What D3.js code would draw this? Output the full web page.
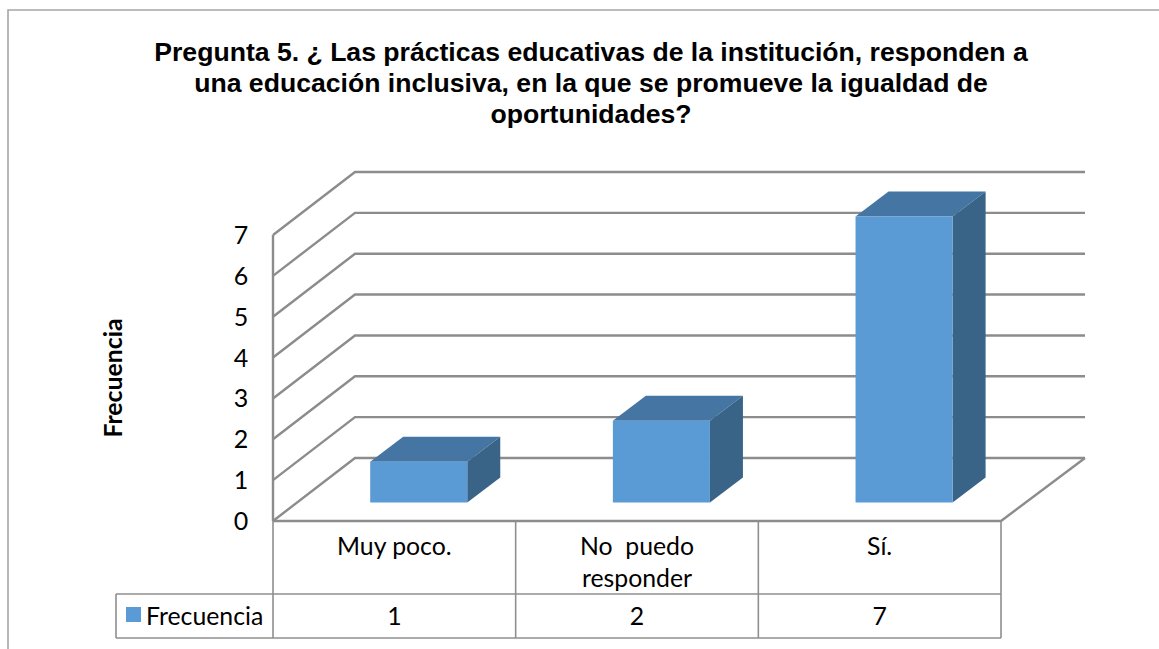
<!DOCTYPE html>
<html><head><meta charset="utf-8">
<script src="https://cdn.jsdelivr.net/npm/d3@7/dist/d3.min.js"></script>
<style>html,body{margin:0;padding:0;background:#fff}svg{display:block}</style>
</head><body><svg id="c" width="1159" height="649"></svg>
<script>
const titleLines = ["Pregunta 5. ¿ Las prácticas educativas de la institución, responden a","una educación inclusiva, en la que se promueve la igualdad de","oportunidades?"];
const categories = ["Muy poco.","No  puedo|responder","Sí."];
const values = [1,2,7];
const yTicks = [0,1,2,3,4,5,6,7];
const seriesName = "Frecuencia";
const yTitle = "Frecuencia";

const svg = d3.select("#c");
const y = d3.scaleLinear().domain([0,7]).range([521,235]);
const x = d3.scaleBand().domain(categories).range([273,1001]).paddingInner(0).paddingOuter(0);
const dx = 82, dxEnd = 84, dy = -63;
const barW = x.bandwidth()/2.5, bdx = 33, bdy = -25, boffX = 24.4, boffY = -18.5;
const grid = "#8c8c8c", tbl = "#8f8f8f";
const bodyFont = "Lato";
const line = (a,w,col)=>svg.append("path").attr("d",d3.line()(a)).attr("fill","none").attr("stroke",col||grid).attr("stroke-width",w||2.4);

// frame
svg.append("path").attr("d","M8,649V10H1159").attr("fill","none").attr("stroke","#a6a6a6").attr("stroke-width",1.6);

// title
svg.append("g").selectAll("text").data(titleLines).join("text")
 .attr("x",591).attr("y",(d,i)=>61+i*31).attr("text-anchor","middle")
 .attr("font-family","Liberation Sans").attr("font-weight","bold").attr("font-size",26.6).attr("fill","#000").text(d=>d);

// walls & grid
yTicks.forEach(t=>{
  line([[x.range()[0],y(t)],[x.range()[0]+dx,y(t)+dy],[x.range()[1]+dxEnd,y(t)+dy]]);
});
line([[273,y(7)],[273,y(0)]]);
line([[x.range()[0],y(0)],[x.range()[1],y(0)],[x.range()[1]+dxEnd,y(0)+dy]]);

// y ticks
svg.append("g").selectAll("text").data(yTicks).join("text")
 .attr("x",241).attr("y",d=>y(d)+9).attr("text-anchor","middle")
 .attr("font-family",bodyFont).attr("font-size",25).attr("fill","#000").text(d=>d);

// y title
svg.append("text").attr("transform","translate(122,378) rotate(-90)").attr("text-anchor","middle")
 .attr("font-family",bodyFont).attr("font-weight","bold").attr("font-size",24.8).text(yTitle);

// bars
const g = svg.append("g");
values.forEach((v,i)=>{
  const c = categories[i];
  const x0 = x(c)+boffX+(x.bandwidth()-barW)/2, x1 = x0+barW;
  const yb = y(0)+boffY, yt = y(v)+boffY;
  g.append("polygon").attr("points",[[x0,yt],[x0+bdx,yt+bdy],[x1+bdx,yt+bdy],[x1,yt]].join(" ")).attr("fill","#4575a2");
  g.append("polygon").attr("points",[[x1,yt],[x1+bdx,yt+bdy],[x1+bdx,yb+bdy],[x1,yb]].join(" ")).attr("fill","#3a6487");
  g.append("rect").attr("x",x0).attr("y",yt).attr("width",barW).attr("height",yb-yt).attr("fill","#5b9bd5");
});

// data table
const tTop = 594, tBot = 638, tLeft = 116;
const tl = (a)=>line(a,1.6,tbl);
tl([[273,521],[273,tBot]]);
categories.forEach((c,i)=>tl([[x(c)+x.bandwidth(),521],[x(c)+x.bandwidth(),tBot]]));
tl([[tLeft,tTop],[1001,tTop]]);
tl([[tLeft,tBot],[1001,tBot]]);
tl([[tLeft,tTop],[tLeft,tBot]]);
categories.forEach((c,i)=>{
  c.split("|").forEach((s,k)=>{
    svg.append("text").attr("x",x(c)+x.bandwidth()/2).attr("y",555+k*32).attr("text-anchor","middle")
     .style("white-space","pre")
     .attr("font-family",bodyFont).attr("font-size",24.8).text(s);
  });
  svg.append("text").attr("x",x(c)+x.bandwidth()/2).attr("y",625).attr("text-anchor","middle")
   .attr("font-family",bodyFont).attr("font-size",24.8).text(values[i]);
});
svg.append("rect").attr("x",126).attr("y",607).attr("width",15).attr("height",15).attr("fill","#5b9bd5");
svg.append("text").attr("x",146).attr("y",625).attr("font-family",bodyFont).attr("font-size",24.8).text(seriesName);
</script></body></html>
